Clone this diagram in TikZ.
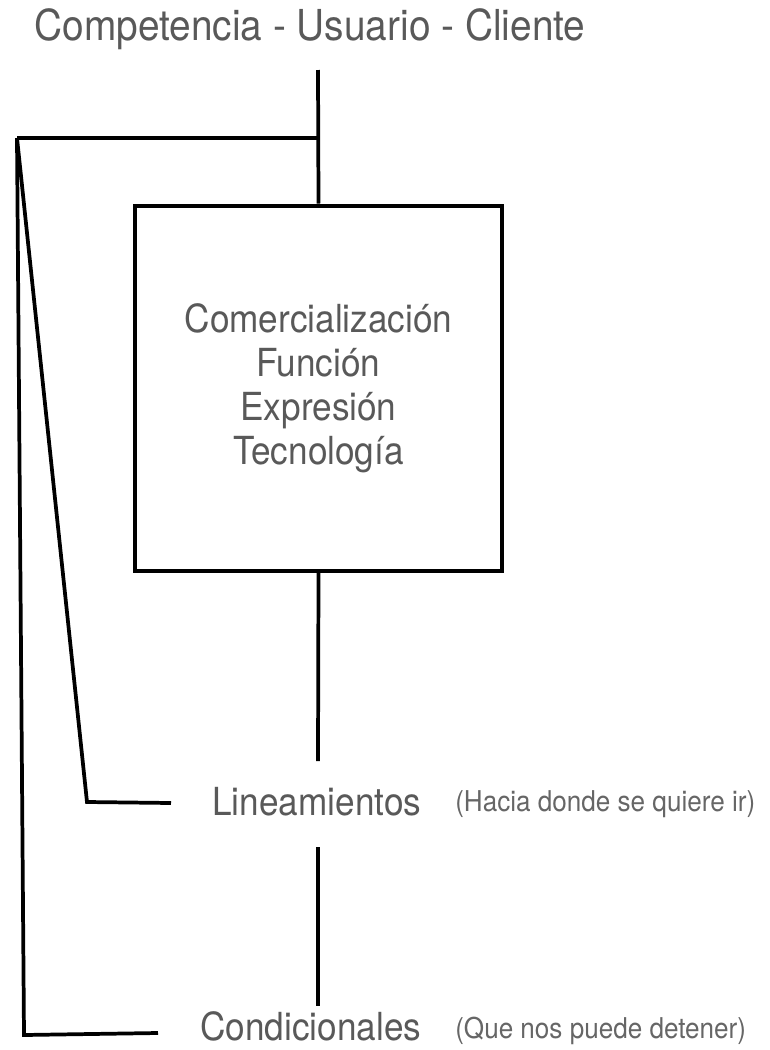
\documentclass[tikz,border=0pt]{standalone}
\usepackage{fontspec}
\setmainfont{TeX Gyre Heros}[FakeStretch=0.91]
\usetikzlibrary{positioning}

\tikzset{
  rama/.style={line width=2.8pt},
  rotulo/.style={anchor=base west, inner sep=0pt, text=black!65, font=\fontsize{29}{33}\selectfont},
  nota/.style={anchor=base west, inner sep=0pt, text=black!60, font=\fontsize{21.5}{25}\selectfont},
}

\begin{document}
\begin{tikzpicture}[x=0.75pt,y=-0.75pt]
\useasboundingbox (0,0) rectangle (769,1050);
% title and box
\node[anchor=base, inner sep=0pt, text=black!65, font=\fontsize{32}{36}\selectfont] (titulo) at (310,40) {Competencia - Usuario - Cliente};
\node[draw, line width=3pt, minimum width=275.25pt, minimum height=273.75pt, align=center, text=black!65, font=\fontsize{29}{33}\selectfont] (caja) at (318.5,388) {Comercialización\\Función\\Expresión\\Tecnología};
\coordinate (arriba) at (318,70);
\coordinate (cruce) at (318,138);
\coordinate (esquina) at (17,138);
\draw[rama] (arriba) -- (caja.north);
\draw[rama] (esquina) -- (cruce);
% lower labels
\node[rotulo] (lineamientos) at (212,815) {Lineamientos};
\node[nota] (hacia) at (455,811) {(Hacia donde se quiere ir)};
\node[rotulo] (condicionales) at (200,1040) {Condicionales};
\node[nota] (detener) at (455,1038) {(Que nos puede detener)};
\coordinate (corte1) at (318,761);
\coordinate (corte2) at (318,847);
\coordinate (corte3) at (318,1006);
\draw[rama] (caja.south) -- (corte1);
\draw[rama] (corte2) -- (corte3);
% left branches
\coordinate (codo1) at (87,802);
\coordinate (fin1) at (171,803);
\coordinate (codo2) at (24,1035);
\coordinate (fin2) at (158,1033);
\draw[rama] (esquina) -- (codo1) -- (fin1);
\draw[rama] (esquina) -- (codo2) -- (fin2);
\end{tikzpicture}
\end{document}
